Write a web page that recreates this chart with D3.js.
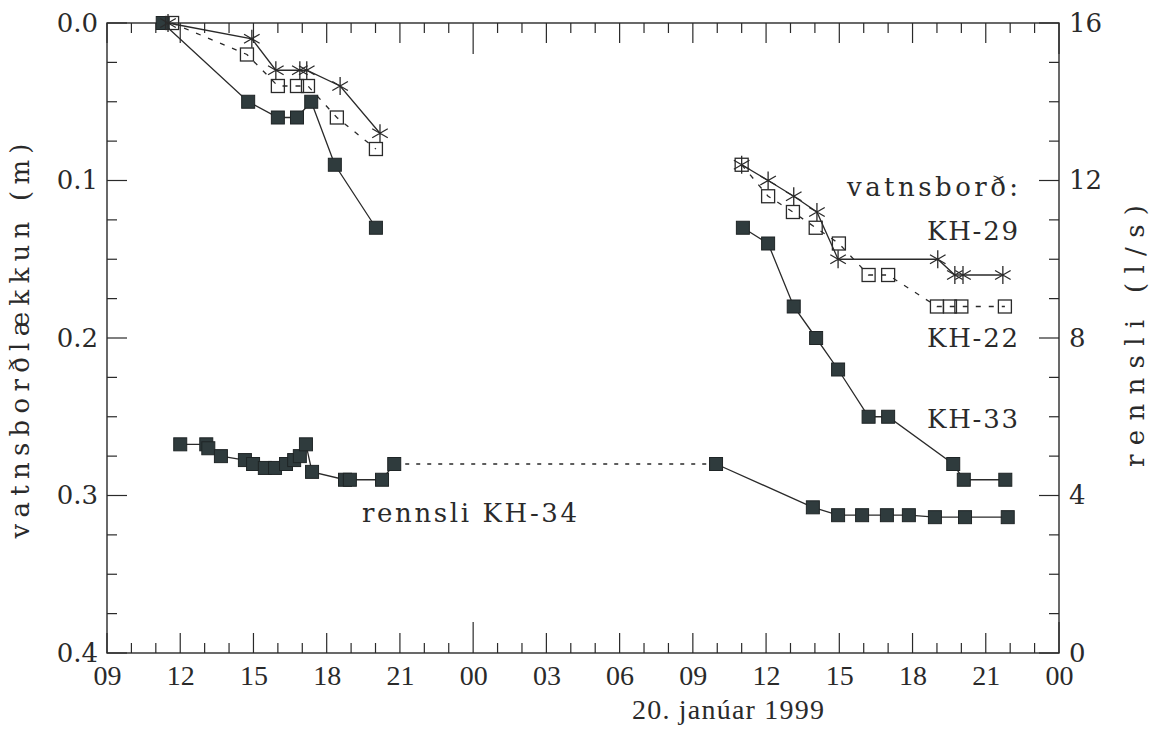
<!DOCTYPE html>
<html>
<head>
<meta charset="utf-8">
<script src="https://cdn.jsdelivr.net/npm/d3@7"></script>
<style>
  body { margin: 0; background: #fff; }
  text { fill: #2a2a2a; }
</style>
</head>
<body>
<div id="chart"></div>
<script>
// water level drop (m), left axis; null breaks the line between the two days
const kh29Time = ["19 11:30","19 14:56","19 15:55","19 16:54","19 17:11","19 18:33","19 20:11", null,
                  "20 11:00","20 12:05","20 13:08","20 14:05","20 14:57","20 19:02","20 19:44","20 20:04","20 21:42"];
const kh29Val  = [0, 0.01, 0.03, 0.03, 0.03, 0.04, 0.07, null,
                  0.09, 0.10, 0.11, 0.12, 0.15, 0.15, 0.16, 0.16, 0.16];

const kh22Time = ["19 11:40","19 14:44","19 16:00","19 16:47","19 17:14","19 18:25","19 20:01", null,
                  "20 11:00","20 12:05","20 13:06","20 14:02","20 14:59","20 16:12","20 17:00","20 19:00","20 19:32","20 20:00","20 21:47"];
const kh22Val  = [0, 0.02, 0.04, 0.04, 0.04, 0.06, 0.08, null,
                  0.09, 0.11, 0.12, 0.13, 0.14, 0.16, 0.16, 0.18, 0.18, 0.18, 0.18];

const kh33Time = ["19 11:17","19 14:47","19 16:00","19 16:47","19 17:22","19 18:20","19 20:01", null,
                  "20 11:03","20 12:05","20 13:08","20 14:03","20 14:57","20 16:12","20 17:00","20 19:40","20 20:06","20 21:48"];
const kh33Val  = [0, 0.05, 0.06, 0.06, 0.05, 0.09, 0.13, null,
                  0.13, 0.14, 0.18, 0.20, 0.22, 0.25, 0.25, 0.28, 0.29, 0.29];

// discharge KH-34 (l/s), right axis
const kh34Time = ["19 12:00","19 13:04","19 13:09","19 13:40","19 14:39","19 14:59","19 15:28","19 15:53","19 16:20",
                  "19 16:40","19 16:54","19 17:09","19 17:24","19 18:45","19 18:57","19 20:16","19 20:46", null,
                  "20 09:57","20 13:55","20 14:57","20 15:56","20 16:57","20 17:51","20 18:55","20 20:09","20 21:54"];
const kh34Val  = [5.3, 5.3, 5.2, 5.0, 4.9, 4.8, 4.7, 4.7, 4.8,
                  4.9, 5.0, 5.3, 4.6, 4.4, 4.4, 4.4, 4.8, null,
                  4.8, 3.7, 3.5, 3.5, 3.5, 3.5, 3.45, 3.45, 3.45];

const leftTicks = [0, 0.1, 0.2, 0.3, 0.4];
const rightTicks = [0, 4, 8, 12, 16];

const parseTime = d3.timeParse("%Y-%m-%d %H:%M");
const toDate = s => s === null ? null : parseTime("1999-01-" + s);

function makeSeries(times, vals) {
    return times.map((t, i) => ({t: toDate(t), v: vals[i]}));
}

const margin = {top: 23, right: 101, bottom: 78, left: 107};
const width = 952, height = 630;

const svg = d3.select("#chart").append("svg")
    .attr("width", 1160)
    .attr("height", 731)
    .append("g")
    .attr("transform", `translate(${margin.left},${margin.top})`);

const x = d3.scaleTime()
    .domain([new Date(1999, 0, 19, 9), new Date(1999, 0, 21, 0)])
    .range([0, width]);
const yL = d3.scaleLinear().domain([0, 0.4]).range([0, height]);
const yR = d3.scaleLinear().domain([0, 16]).range([height, 0]);

const ink = "#2a2a2a";
const serif = "'DejaVu Serif', serif";
const narrow = "'Liberation Serif', serif";

// frame
svg.append("rect")
    .attr("width", width).attr("height", height)
    .attr("fill", "none").attr("stroke", ink).attr("stroke-width", 1.4);

// hour ticks on bottom and top
const hours = x.ticks(d3.timeHour.every(1));
const tickLen = d => d.getHours() === 0 ? 31 : (d.getHours() % 3 === 0 ? 20 : 10);
hours.forEach(d => {
    svg.append("line").attr("x1", x(d)).attr("x2", x(d))
        .attr("y1", height).attr("y2", height - tickLen(d))
        .attr("stroke", ink).attr("stroke-width", 1.2);
    svg.append("line").attr("x1", x(d)).attr("x2", x(d))
        .attr("y1", 0).attr("y2", tickLen(d))
        .attr("stroke", ink).attr("stroke-width", 1.2);
});

// vertical ticks (0.025 m = 1 l/s)
d3.range(0, 16.01, 1).forEach(q => {
    const len = q % 4 === 0 ? 20 : 10;
    svg.append("line").attr("x1", 0).attr("x2", len)
        .attr("y1", yR(q)).attr("y2", yR(q))
        .attr("stroke", ink).attr("stroke-width", 1.2);
    svg.append("line").attr("x1", width).attr("x2", width - len)
        .attr("y1", yR(q)).attr("y2", yR(q))
        .attr("stroke", ink).attr("stroke-width", 1.2);
});

// axis labels through d3 axes
const xAxis = d3.axisBottom(x)
    .ticks(d3.timeHour.every(3))
    .tickSize(0).tickPadding(12)
    .tickFormat(d3.timeFormat("%H"));
const gx = svg.append("g").attr("transform", `translate(0,${height})`).call(xAxis);
gx.selectAll("text").style("font-family", narrow).style("font-size", "28px").style("fill", ink);

const gl = svg.append("g").call(d3.axisLeft(yL).tickValues(leftTicks).tickSize(0).tickPadding(9).tickFormat(d3.format(".1f")));
gl.selectAll("text").style("font-family", serif).style("font-size", "26px").style("fill", ink);

const gr = svg.append("g").attr("transform", `translate(${width},0)`)
    .call(d3.axisRight(yR).tickValues(rightTicks).tickSize(0).tickPadding(10));
gr.selectAll("text").style("font-family", serif).style("font-size", "26px").style("fill", ink);

[gx, gl, gr].forEach(g => g.select(".domain").remove());

// lines
const lineL = d3.line().defined(d => d.v !== null).x(d => x(d.t)).y(d => yL(d.v));
const lineR = d3.line().defined(d => d.v !== null).x(d => x(d.t)).y(d => yR(d.v));

const s29 = makeSeries(kh29Time, kh29Val);
const s22 = makeSeries(kh22Time, kh22Val);
const s33 = makeSeries(kh33Time, kh33Val);
const s34 = makeSeries(kh34Time, kh34Val);

svg.append("path").datum(s33).attr("d", lineL)
    .attr("fill", "none").attr("stroke", ink).attr("stroke-width", 1.3);
svg.append("path").datum(s29).attr("d", lineL)
    .attr("fill", "none").attr("stroke", ink).attr("stroke-width", 1.3);
svg.append("path").datum(s22).attr("d", lineL)
    .attr("fill", "none").attr("stroke", ink).attr("stroke-width", 1.3)
    .attr("stroke-dasharray", "5,8");
svg.append("path").datum(s34).attr("d", lineR)
    .attr("fill", "none").attr("stroke", ink).attr("stroke-width", 1.3);

// dashed bridge over the gap in the discharge record
const gapAt = s34.findIndex(d => d.v === null);
svg.append("path").datum([s34[gapAt - 1], s34[gapAt + 1]]).attr("d", lineR)
    .attr("fill", "none").attr("stroke", ink).attr("stroke-width", 1.3)
    .attr("stroke-dasharray", "4,7");

// markers
const sq = 13;
function filledSquares(data, y) {
    svg.append("g").selectAll("rect")
        .data(data.filter(d => d.v !== null))
        .join("rect")
        .attr("x", d => x(d.t) - sq / 2)
        .attr("y", d => y(d.v) - sq / 2)
        .attr("width", sq).attr("height", sq)
        .attr("fill", "#2f3b3d").attr("stroke", "#1f2526").attr("stroke-width", 1);
}
filledSquares(s33, yL);
filledSquares(s34, yR);

svg.append("g").selectAll("rect")
    .data(s22.filter(d => d.v !== null))
    .join("rect")
    .attr("x", d => x(d.t) - sq / 2)
    .attr("y", d => yL(d.v) - sq / 2)
    .attr("width", sq).attr("height", sq)
    .attr("fill", "none").attr("stroke", ink).attr("stroke-width", 1.3);

const r = 9;
const a = Math.PI / 6;
const star = `M0,${-r}L0,${r}` +
    `M${-r * Math.cos(a)},${-r * Math.sin(a)}L${r * Math.cos(a)},${r * Math.sin(a)}` +
    `M${-r * Math.cos(a)},${r * Math.sin(a)}L${r * Math.cos(a)},${-r * Math.sin(a)}`;
svg.append("g").selectAll("path")
    .data(s29.filter(d => d.v !== null))
    .join("path")
    .attr("transform", d => `translate(${x(d.t)},${yL(d.v)})`)
    .attr("d", star)
    .attr("fill", "none").attr("stroke", ink).attr("stroke-width", 1.3);

// annotations
function label(txt, px, py, len, opts = {}) {
    const t = svg.append("text")
        .attr("x", px).attr("y", py)
        .style("font-family", opts.font || serif)
        .style("font-size", (opts.size || 26) + "px")
        .text(txt);
    if (len) t.attr("textLength", len).attr("lengthAdjust", "spacing");
    if (opts.rotate) t.attr("transform", `rotate(${opts.rotate},${px},${py})`).attr("text-anchor", "middle");
    return t;
}
label("vatnsborð:", 740, 173, 171);
label("KH-29", 820, 217, 91);
label("KH-22", 820, 324, 91);
label("KH-33", 820, 405, 91);
label("rennsli KH-34", 255, 499, 215);
label("20. janúar 1999", 525, 696, 192, {font: narrow, size: 28});

label("vatnsborðlækkun (m)", -78, 318, 395, {rotate: -90});
label("rennsli (l/s)", 1037, 313, 262, {rotate: -90});
</script>
</body>
</html>
